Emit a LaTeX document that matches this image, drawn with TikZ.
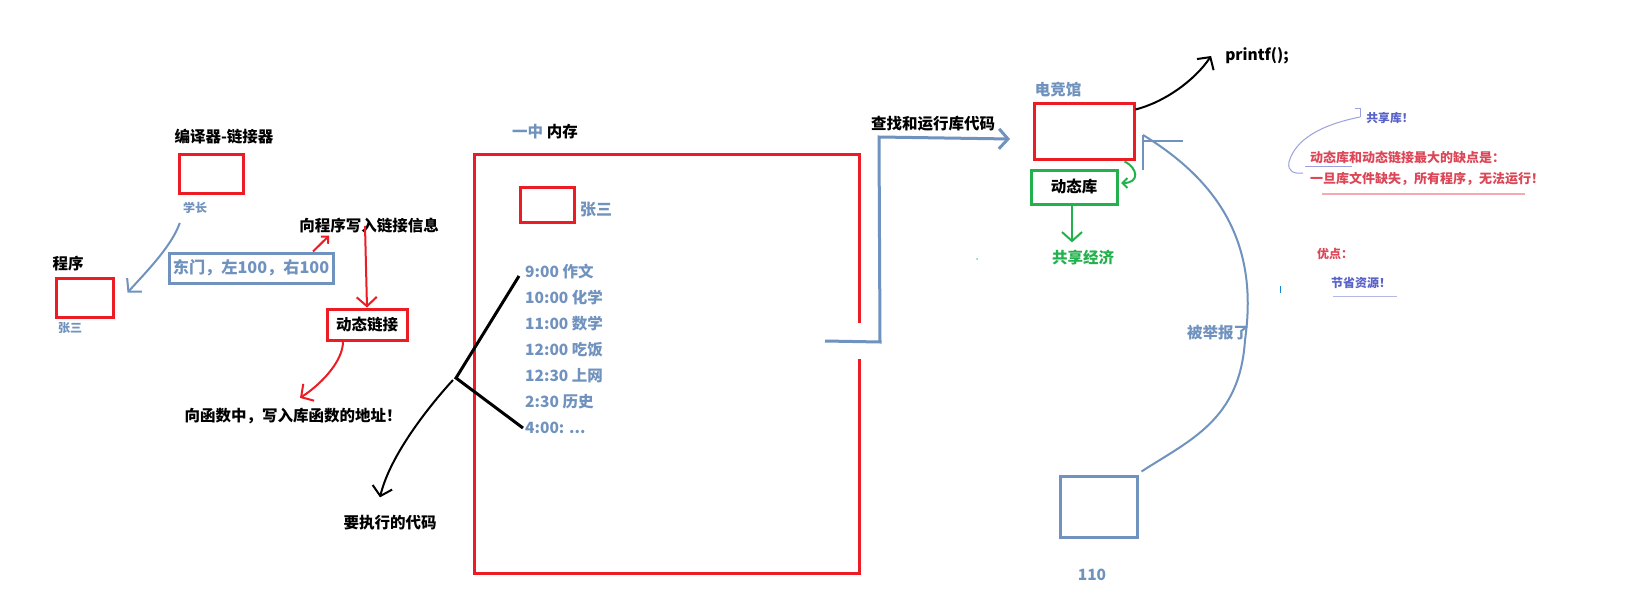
\documentclass[tikz,border=0pt]{standalone}
\usepackage{fontspec}
\setmainfont{Noto Sans CJK SC}
\usetikzlibrary{arrows.meta}
\definecolor{rd}{RGB}{237,28,36}
\definecolor{bl}{RGB}{112,146,190}
\definecolor{gr}{RGB}{34,177,76}
\definecolor{rtx}{RGB}{220,70,86}
\definecolor{pu}{RGB}{88,98,200}
\definecolor{pk}{RGB}{245,170,175}
\begin{document}
\begin{tikzpicture}[x=1pt,y=-1pt,
  box/.style={draw, line width=3pt, inner sep=0pt},
  lbl/.style={inner sep=0pt, font=\bfseries\fontsize{15.5}{18}\selectfont},
  sml/.style={inner sep=0pt, font=\bfseries\fontsize{12}{14}\selectfont},
  sched/.style={inner sep=0pt, anchor=west, text=bl, font=\bfseries\fontsize{15.5}{18}\selectfont},
  hd/.style={-{Straight Barb[length=9pt,width=20pt]}},
  hds/.style={-{Straight Barb[length=5pt,width=10pt]}},
]
\useasboundingbox[fill=white] (0,0) rectangle (1626,610);

% left part
\node[lbl] (complabel) at (224,137) {编译器-链接器};
\node[box, rd, minimum width=64pt, minimum height=39pt] (compbox) at (211,173.5) {};
\node[sml, text=bl] (xz) at (195,208) {学长};
\node[lbl] (proglabel) at (68,264) {程序};
\node[box, rd, minimum width=57pt, minimum height=39pt] (progbox) at (84.5,297.5) {};
\node[sml, text=bl] (zs1) at (70,328) {张三};
\node[box, bl, minimum width=164pt, minimum height=30pt, text=bl, font=\bfseries\fontsize{16.2}{18}\selectfont] (addr) at (251,268) {东门，左100，右100};
\node[lbl] (writeinfo) at (369,226) {向程序写入链接信息};
\node[box, rd, text=black, minimum width=80pt, minimum height=31pt, font=\bfseries\fontsize{15.5}{18}\selectfont] (dynlink) at (367,324.5) {动态链接};
\node[lbl] (writeaddr) at (293,416) {向函数中，写入库函数的地址！};
\node[lbl] (code) at (390,523) {要执行的代码};

\draw[bl, line width=2pt, hd] ([shift={(-3pt,-9pt)}]xz.south west) .. controls (172,245) and (150,268) .. ([shift={(13pt,-16pt)}]progbox.north east);
\draw[rd, line width=2pt, hds] ([xshift=62pt]addr.north) -- ([xshift=30pt,yshift=-2pt]writeinfo.south west);
\draw[rd, line width=2pt, hd] ([xshift=-4pt]writeinfo.center) -- (dynlink.north);
\draw[rd, line width=2pt, hd] ([xshift=-24pt]dynlink.south) .. controls (343,362) and (320,385) .. ([shift={(7pt,10pt)}]writeaddr.north);

% memory
\node[inner sep=0pt, font=\bfseries\fontsize{15.5}{18}\selectfont] (memtitle) at (545,132) {\textcolor{bl}{一中} 内存};
\draw[rd, line width=3pt] (859,323) -- (859,154) -- (474,154) -- (474,573) -- (859,573) -- (859,359);
\node[box, rd, minimum width=54pt, minimum height=35pt] (smallbox) at (547,204.5) {};
\node[inner sep=0pt, text=bl, font=\bfseries\fontsize{16}{18}\selectfont] (zs2) at (596,210) {张三};
\node[sched] (s1) at (525,272) {9:00 作文};
\node[sched] (s2) at (525,298) {10:00 化学};
\node[sched] (s3) at (525,324) {11:00 数学};
\node[sched] (s4) at (525,350) {12:00 吃饭};
\node[sched] (s5) at (525,376) {12:30 上网};
\node[sched] (s6) at (525,402) {2:30 历史};
\node[sched] (s7) at (525,428) {4:00: ...};
\coordinate (j) at (456,378);
\draw[black, line width=3pt] ([xshift=-6pt,yshift=-4pt]s1.west) -- (j) -- ([xshift=-2pt]s7.west);
\draw[black, line width=2pt, hd] ([xshift=-3pt,yshift=-2pt]j) .. controls (430,405) and (390,455) .. ([shift={(-10pt,18pt)}]code.north);

% right part
\node[lbl] (fetch) at (933,124) {查找和运行库代码};
\node[lbl, text=bl] (esports) at (1058,90) {电竞馆};
\node[box, rd, minimum width=100pt, minimum height=56pt] (libbox) at (1084,131) {};
\node[box, gr, text=black, minimum width=86pt, minimum height=34pt, font=\bfseries\fontsize{15.5}{18}\selectfont] (dynlib) at (1074,187) {动态库};
\node[lbl, text=gr] (shared) at (1083,258) {共享经济};
\node[inner sep=0pt, font=\bfseries\fontsize{15.5}{18}\selectfont] (printf) at (1257,56) {printf();};
\node[box, bl, minimum width=77pt, minimum height=61pt] (box110) at (1098.5,506.5) {};
\node[lbl, text=bl] (n110) at (1092,575) {110};
\node[lbl, text=bl] (report) at (1218,333) {被举报了};

\coordinate (mstart) at (825,341);
\coordinate (fetchend) at (1010,139);
\draw[bl, line width=3pt, hd] (mstart) -- (880,342) -- (879,137) -- (fetchend);
\draw[black, line width=2pt, hd] ([yshift=-8pt]libbox.north east) .. controls (1165,102) and (1195,80) .. ([xshift=-14pt]printf.west);
\draw[gr, line width=2pt, hds] ([shift={(-11pt,-1pt)}]libbox.south east) .. controls (1138,168) and (1140,183) .. (1121,183);
\draw[gr, line width=2pt, hd] ([xshift=-2pt]dynlib.south) -- ([shift={(-11pt,8pt)}]shared.north);

\coordinate (rtip) at (1143,135);
\draw[bl, line width=2pt] ([shift={(3pt,3pt)}]box110.north east) .. controls (1190,440) and (1240,420) .. (1245,340) .. controls (1258,250) and (1225,185) .. (rtip);
\draw[bl, line width=2pt] (rtip) -- (1143,170);
\draw[bl, line width=2pt] (1143,141) -- (1183,141);

% notes
\node[sml, text=pu, font=\bfseries\fontsize{11.8}{14}\selectfont] (shlib) at (1390,118) {共享库！};
\node[sml, text=rtx, anchor=west, font=\bfseries\fontsize{13}{14}\selectfont] (con1) at (1310,157) {动态库和动态链接最大的缺点是：};
\node[sml, text=rtx, anchor=west, font=\bfseries\fontsize{13}{14}\selectfont] (con2) at (1310,179) {一旦库文件缺失，所有程序，无法运行！};
\draw[pk, line width=1.2pt] (1322,194) -- (1525,194);
\coordinate (hk) at (1360,117);
\draw[pu!60, line width=1pt] (hk) .. controls (1320,125) and (1295,140) .. (1289,162) .. controls (1287,172) and (1295,174) .. (1303,173);
\draw[pu!60, line width=1pt] (hk) -- ++(0,-9) -- ++(-5,0);
\draw[pu!60, line width=1pt] (1305,166) -- (1352,166);
\node[sml, text=rtx] (pro) at (1335,254) {优点：};
\node[sml, text=pu] (save) at (1361,283) {节省资源！};
\draw[pu!45, line width=1pt] (1333,296) -- (1397,296);
\draw[cyan!70!blue, line width=1pt] (1280,286) -- (1280,293);
\fill[gr!60] (977,259) circle (1pt);
\end{tikzpicture}
\end{document}
